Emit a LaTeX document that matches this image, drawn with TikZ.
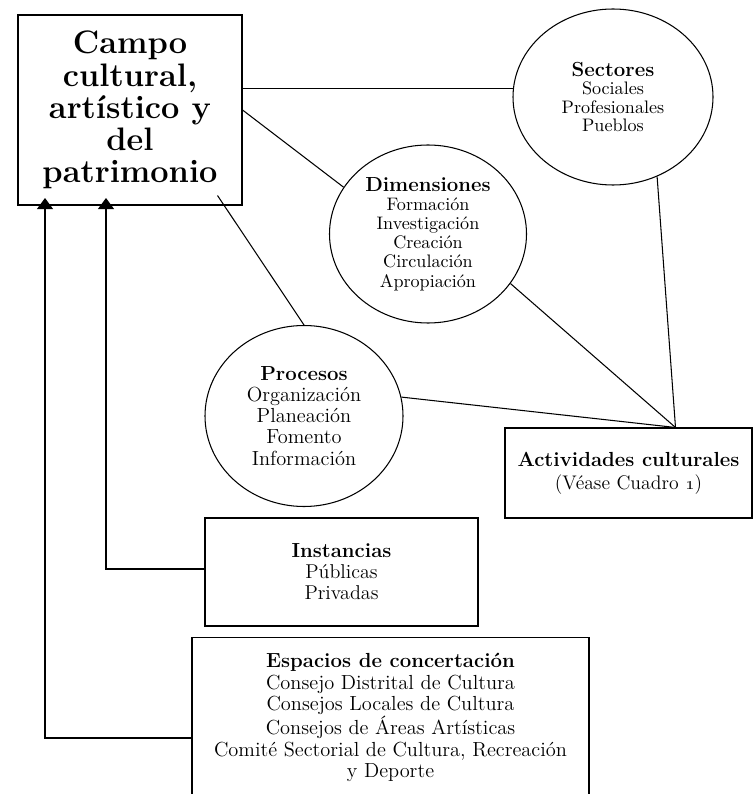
\documentclass[tikz,border=0pt]{standalone}
\usetikzlibrary{positioning, shapes.geometric, arrows.meta}
\newcommand{\tit}[1]{{\fontsize{11.6}{12}\selectfont\bfseries #1}}
\tikzset{
	caja/.style = {draw, rectangle, align = center, line width = 0.6pt},
	globo/.style = {draw, ellipse, align = center, inner sep = 0pt, line width = 0.6pt},
	linea/.style = {line width = 0.6pt},
	flecha/.style = {line width = 0.6pt, -{Triangle[length = 0.22cm, width = 0.32cm]}, shorten > = -0.15cm}
}
\begin{document}
\begin{tikzpicture}
	\useasboundingbox (0,0) rectangle (15.06,-15.88);
	\node [caja, minimum width = 4.48cm, minimum height = 3.8cm, font = \fontsize{18.5}{18.3}\selectfont\bfseries] (campo) at (2.6,-2.2) {Campo\\cultural,\\artístico y\\del\\patrimonio};
	\node [globo, minimum width = 4cm, minimum height = 3.52cm, font = \fontsize{10.3}{10.6}\selectfont] (sect) at (12.26,-1.94) {\tit{Sectores}\\Sociales\\Profesionales\\Pueblos};
	\node [globo, minimum width = 3.94cm, minimum height = 3.56cm, font = \fontsize{10.3}{10.9}\selectfont] (dim) at (8.56,-4.68) {\tit{Dimensiones}\\Formación\\Investigación\\Creación\\Circulación\\Apropiación};
	\node [globo, minimum width = 3.96cm, minimum height = 3.62cm, font = \fontsize{11.6}{12}\selectfont] (proc) at (6.08,-8.32) {\tit{Procesos}\\Organización\\Planeación\\Fomento\\Información};
	\node [caja, minimum width = 4.94cm, minimum height = 1.8cm, font = \fontsize{11.2}{13}\selectfont] (act) at (12.57,-9.46) {\tit{Actividades culturales}\\(Véase Cuadro \oldstylenums{1})};
	\node [caja, minimum width = 5.46cm, minimum height = 2.16cm, font = \fontsize{11.4}{12}\selectfont] (inst) at (6.83,-11.44) {\tit{Instancias}\\Públicas\\Privadas};
	\node [caja, anchor = north, minimum width = 7.94cm, minimum height = 3.6cm] (esp) at (7.81,-12.74) {};
	\node [below = 0.32cm of esp.north, align = center, inner sep = 0pt, font = \fontsize{11.6}{12.2}\selectfont] (esptxt) {\tit{Espacios de concertación}\\Consejo Distrital de Cultura\\Consejos Locales de Cultura\\Consejos de Áreas Artísticas\\Comité Sectorial de Cultura, Recreación\\y Deporte};
	% lineas
	\coordinate (cruce) at ([xshift = 0.94cm]act.north);
	\draw [linea] (sect.175) -- (sect.175 -| campo.east);
	\draw [linea] (campo.east) -- (dim.151);
	\draw [linea] ([xshift = -0.5cm, yshift = 0.2cm]campo.south east) -- (proc.north);
	\draw [linea] (sect.-61) -- (cruce);
	\draw [linea] (dim.-31) -- (cruce);
	\draw [linea] (proc.11) -- (cruce);
	% flechas
	\coordinate (i1) at (2.12,-11.38);
	\coordinate (e1) at (0.9,-14.76);
	\draw [flecha] (inst.west |- i1) -- (i1) -- (i1 |- campo.south);
	\draw [flecha] (esp.west |- e1) -- (e1) -- (e1 |- campo.south);
\end{tikzpicture}
\end{document}
